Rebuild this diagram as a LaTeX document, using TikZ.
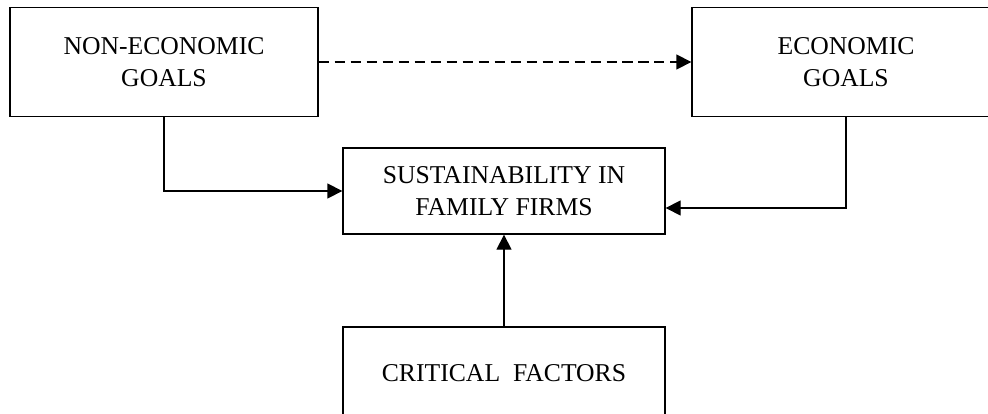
\documentclass[tikz,border=0pt]{standalone}
\usepackage{fontspec}
\setmainfont{Liberation Serif}
\usetikzlibrary{arrows.meta}

\begin{document}
\begin{tikzpicture}[line width=0.75pt,
		goalbox/.style = {draw, minimum width=6.16cm, minimum height=2.18cm, align=center, font=\fontsize{14.6}{18.2}\selectfont},
		mainbox/.style = {draw, minimum width=6.44cm, minimum height=1.72cm, align=center, font=\fontsize{14.6}{18.2}\selectfont},
		link/.style = {-{Triangle[length=3mm,width=3mm]}}]
			\useasboundingbox (0, 0) rectangle (19.76, -8.28);
			\node (noneco) at (3.28, -1.24) [goalbox] {NON-ECONOMIC\\GOALS};
			\node (eco)    at (16.92, -1.24) [goalbox] {ECONOMIC\\GOALS};
			\node (sust)   at (10.08, -3.82) [mainbox] {SUSTAINABILITY IN\\FAMILY FIRMS};
			\node (crit)   at (10.08, -7.46) [mainbox, minimum height=1.84cm] {CRITICAL\ \ FACTORS};
			\draw [link, dash pattern=on 5.7pt off 3.4pt] (noneco) -- (eco);
			\draw [link] (noneco.south) |- (sust.west);
			\draw [link] (eco.south) |- (sust.-6.5);
			\draw [link] (crit) -- (sust);
		\end{tikzpicture}
\end{document}
